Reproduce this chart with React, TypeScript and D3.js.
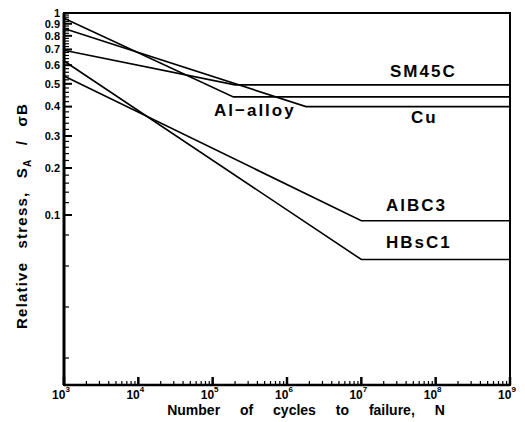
import React from 'react';
import * as d3 from 'd3';

const W = 525, H = 422;

// S-N curves, [cycles, relative stress]
const seriesNames = ['SM45C', 'Al−alloy', 'Cu', 'AlBC3', 'HBsC1'];
const sm45c = [[1e3, 0.695], [2e5, 0.495], [1e9, 0.495]];
const alAlloy = [[1e3, 0.95], [1.9e5, 0.44], [1e9, 0.44]];
const cu = [[1e3, 0.86], [1.8e6, 0.40], [1e9, 0.40]];
const albc3 = [[1e3, 0.54], [1e7, 0.097], [1e9, 0.097]];
const hbsc1 = [[1e3, 0.625], [1e7, 0.082], [1e9, 0.082]];
const curves = [sm45c, alAlloy, cu, albc3, hbsc1];

const xExponents = [3, 4, 5, 6, 7, 8, 9];
const yLabels = [1, 0.9, 0.8, 0.7, 0.6, 0.5, 0.4, 0.3, 0.2, 0.1];
const yMinor = [0.09, 0.08, 0.07, 0.06];

// label placement (px) for the curve names
const labelPos = [
  { x: 390, y: 77 },
  { x: 214, y: 116 },
  { x: 411, y: 123 },
  { x: 386, y: 211 },
  { x: 386, y: 248 },
];

export default function App() {
  const left = 64, right = 510, top = 13, bottom = 385;

  const x = d3.scaleLog().domain([1e3, 1e9]).range([left, right]);
  // the printed stress axis is not a clean log scale below 0.3
  const y = d3.scaleLog()
    .domain([1, 0.3, 0.2, 0.1, 0.09, 0.08, 0.07, 0.06, 0.055])
    .range([top, 136, 168, 215, 235, 266, 307, 358, bottom]);

  const line = d3.line<number[]>().x(d => x(d[0])).y(d => y(d[1]));

  const xMinor: number[] = [];
  for (let e = 3; e < 9; e++) for (let m = 2; m <= 9; m++) xMinor.push(m * Math.pow(10, e));

  const yMinorTicks: number[] = d3.range(0.12, 1, 0.02)
    .map(v => +v.toFixed(2))
    .filter(v => !yLabels.includes(v))
    .concat(yMinor);

  const font = 'Liberation Sans, Arial, sans-serif';

  return (
    <svg width={W} height={H} style={{ position: 'absolute', left: 0, top: 0, background: '#fff' }}>
      {/* frame */}
      <rect x={left} y={top} width={right - left} height={bottom - top} fill="none" stroke="#000" strokeWidth={2} />
      <line x1={left} x2={left} y1={top} y2={bottom} stroke="#000" strokeWidth={3} />
      <line x1={left} x2={right} y1={bottom} y2={bottom} stroke="#000" strokeWidth={2.5} />

      {/* x ticks */}
      {xExponents.map(e => (
        <line key={'xm' + e} x1={x(Math.pow(10, e))} x2={x(Math.pow(10, e))} y1={bottom} y2={bottom - 8} stroke="#000" strokeWidth={2.5} />
      ))}
      {xMinor.map(v => (
        <line key={'xn' + v} x1={x(v)} x2={x(v)} y1={bottom} y2={bottom - 4} stroke="#000" strokeWidth={1.2} />
      ))}

      {/* y ticks */}
      {yLabels.map(v => (
        <line key={'ym' + v} x1={left} x2={left + 8} y1={y(v)} y2={y(v)} stroke="#000" strokeWidth={2} />
      ))}
      {yMinorTicks.map(v => (
        <line key={'yn' + v} x1={left} x2={left + 5} y1={y(v)} y2={y(v)} stroke="#000" strokeWidth={1.2} />
      ))}

      {/* y tick labels */}
      {yLabels.map(v => (
        <text key={'yl' + v} x={60} y={y(v)} dy="0.35em" textAnchor="end" fontFamily={font} fontWeight="bold" fontSize={11}>
          {v}
        </text>
      ))}

      {/* x tick labels */}
      {xExponents.map(e => (
        <text key={'xl' + e} x={x(Math.pow(10, e)) - 3} y={399} textAnchor="middle" fontFamily={font} fontWeight="bold" fontSize={12}>
          10<tspan dy={-7} fontSize={8}>{e}</tspan>
        </text>
      ))}

      {/* curves */}
      {curves.map((c, i) => (
        <path key={'c' + i} d={line(c) || ''} fill="none" stroke="#000" strokeWidth={1.6} />
      ))}

      {/* curve names */}
      {seriesNames.map((n, i) => (
        <text key={'n' + i} x={labelPos[i].x} y={labelPos[i].y} fontFamily={font} fontWeight="bold" fontSize={17} letterSpacing={2}>
          {n}
        </text>
      ))}

      {/* axis titles */}
      <text x={306} y={415} textAnchor="middle" fontFamily={font} fontWeight="bold" fontSize={14} wordSpacing={16}>
        Number of cycles to failure, N
      </text>
      <text transform="translate(27,216) rotate(-90)" textAnchor="middle" fontFamily={font} fontWeight="bold" fontSize={15} letterSpacing={1.2} wordSpacing={8}>
        Relative stress, S<tspan fontSize={10} dy={4}>A</tspan><tspan dy={-4}> / σB</tspan>
      </text>
    </svg>
  );
}
